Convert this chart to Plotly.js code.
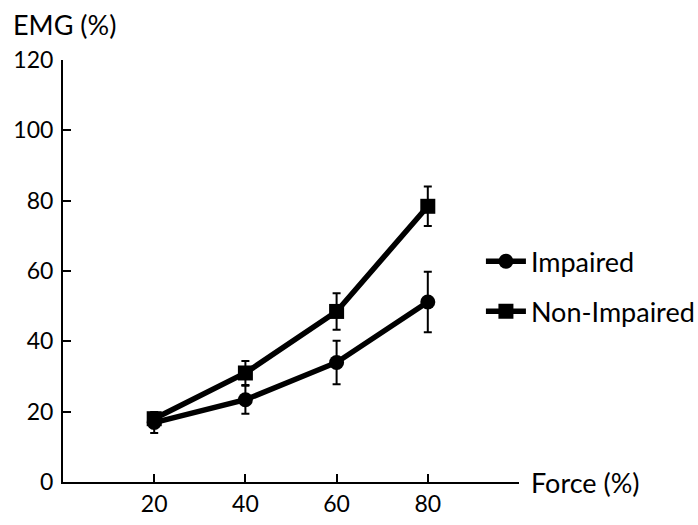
<!DOCTYPE html>
<html>
<head>
<meta charset="utf-8">
<script src="https://cdn.plot.ly/plotly-3.0.1.min.js"></script>
<style>html,body{margin:0;padding:0;background:#fff}#chart{width:698px;height:525px}</style>
</head>
<body>
<div id="chart"></div>
<script>
const force = [20, 40, 60, 80];
const impaired = [16.9, 23.4, 34.0, 51.2];
const impairedErr = [3.0, 4.0, 6.2, 8.6];
const nonImpaired = [18.0, 31.0, 48.5, 78.4];
const nonImpairedErr = [1.5, 3.4, 5.2, 5.6];
const xTickVals = [20, 40, 60, 80, 100];
const xTickText = ['20', '40', '60', '80', ''];
const yTickVals = [0, 20, 40, 60, 80, 100, 120];

const font = 'Lato, "Open Sans", sans-serif';

const traces = [
  {
    x: force, y: impaired, name: 'Impaired', type: 'scatter', mode: 'lines+markers',
    legendgroup: 'a',
    line: {color: '#000', width: 5.5},
    marker: {symbol: 'circle', size: 15, color: '#000'},
    error_y: {type: 'data', array: impairedErr, visible: true, color: '#000', thickness: 2, width: 4}
  },
  {
    x: force, y: nonImpaired, name: 'Non-Impaired', type: 'scatter', mode: 'lines+markers',
    legendgroup: 'b',
    line: {color: '#000', width: 5.5},
    marker: {symbol: 'square', size: 15, color: '#000'},
    error_y: {type: 'data', array: nonImpairedErr, visible: true, color: '#000', thickness: 2, width: 4}
  }
];

const layout = {
  width: 698, height: 525,
  margin: {l: 63, r: 179, t: 60, b: 43, pad: 0, autoexpand: false},
  paper_bgcolor: '#fff', plot_bgcolor: '#fff',
  font: {family: font, size: 23, color: '#000'},
  showlegend: true,
  legend: {
    xref: 'container', yref: 'container',
    x: 0.689, y: 0.454, xanchor: 'left', yanchor: 'middle',
    traceorder: 'grouped', tracegroupgap: 12,
    font: {family: font, size: 27, color: '#000'},
    bgcolor: 'rgba(0,0,0,0)', itemwidth: 40
  },
  xaxis: {
    range: [0, 100], showgrid: false, zeroline: false, automargin: false,
    showline: true, linecolor: '#000', linewidth: 2,
    ticks: 'inside', ticklen: 8, tickwidth: 2, tickcolor: '#000',
    tickmode: 'array', tickvals: xTickVals, ticktext: xTickText,
    tickfont: {family: font, size: 23, color: '#000'}
  },
  yaxis: {
    range: [0, 120], showgrid: false, zeroline: false, automargin: false,
    showline: true, linecolor: '#000', linewidth: 2,
    ticks: 'inside', ticklen: 8, tickwidth: 2, tickcolor: '#000',
    tickmode: 'array', tickvals: yTickVals, ticklabelstandoff: 3,
    tickfont: {family: font, size: 23, color: '#000'}
  },
  annotations: [
    {text: 'EMG (%)', xref: 'paper', yref: 'paper', x: -0.114, y: 1.083, xanchor: 'left', yanchor: 'middle', showarrow: false, font: {family: font, size: 27, color: '#000'}},
    {text: 'Force (%)', xref: 'paper', yref: 'paper', x: 1.022, y: 0, xanchor: 'left', yanchor: 'middle', showarrow: false, font: {family: font, size: 27, color: '#000'}}
  ]
};

Plotly.newPlot('chart', traces, layout, {displayModeBar: false, staticPlot: true});
</script>
</body>
</html>
